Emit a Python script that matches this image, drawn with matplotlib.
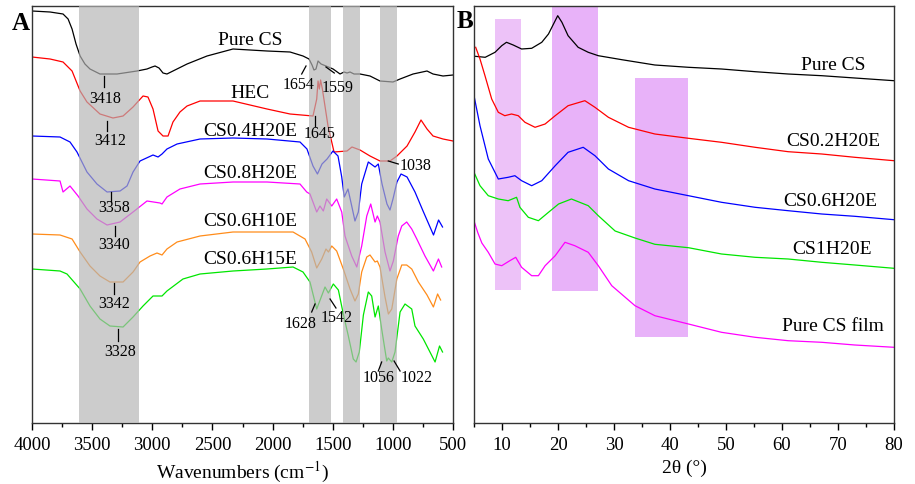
import matplotlib
matplotlib.use("Agg")
import matplotlib.pyplot as plt
import numpy as np

plt.rcParams['font.family'] = ['Liberation Serif', 'DejaVu Serif']
plt.rcParams['mathtext.fontset'] = 'stix'

# ---------------- Panel A: FTIR ----------------
ftir_names = ["Pure CS", "HEC", "CS0.4H20E", "CS0.8H20E", "CS0.6H10E", "CS0.6H15E"]
ftir_colors = ["#000000", "#ff0000", "#0000ff", "#ff00ff", "#ff8c1a", "#00e600"]

pure_cs_wn = [4000, 3850, 3742, 3700, 3667, 3634, 3600, 3560, 3518, 3435, 3293, 3127, 3044, 3002, 2977,
              2944, 2911, 2878, 2828, 2711, 2545, 2329, 2046, 1855, 1747, 1697, 1672, 1656, 1639, 1622,
              1597, 1556, 1497, 1439, 1406, 1381, 1356, 1323, 1273, 1190, 1107, 999, 940, 832, 716, 666,
              583, 500]
pure_cs_i = [412, 411, 409, 404, 394, 379, 367, 359, 354, 349, 349, 352, 354, 356, 357,
             355, 350, 349, 352, 359, 367, 374, 372, 371, 367, 364, 358, 353, 354, 362,
             359, 357, 354, 349, 351, 350, 351, 349, 349, 347, 342, 341, 344, 349, 352, 349,
             347, 348]

hec_wn = [4000, 3850, 3742, 3667, 3600, 3543, 3435, 3327, 3243, 3160, 3077, 3036, 2994, 2952, 2911,
          2869, 2828, 2770, 2711, 2603, 2329, 2046, 1855, 1664, 1633, 1622, 1611, 1601, 1586, 1539,
          1489, 1381, 1340, 1273, 1190, 1107, 1024, 966, 882, 816, 766, 716, 666, 583, 500]
hec_i = [366, 364, 361, 352, 332, 321, 309, 305, 307, 316, 327, 326, 314, 292, 287,
         287, 301, 311, 317, 322, 322, 314, 309, 307, 324, 342, 334, 343, 334, 297,
         271, 272, 276, 273, 267, 262, 262, 267, 277, 291, 303, 294, 287, 284, 282]

cs04_wn = [4000, 3767, 3684, 3626, 3543, 3460, 3376, 3268, 3210, 3160, 3102, 2994, 2952, 2919, 2878,
           2794, 2603, 2329, 2046, 1772, 1714, 1664, 1627, 1589, 1547, 1498, 1456, 1425, 1404, 1373,
           1342, 1315, 1287, 1259, 1204, 1148, 1121, 1090, 1049, 1024, 999, 966, 932, 882, 816, 749,
           662, 620, 587]
cs04_i = [287, 286, 281, 271, 251, 239, 231, 232, 237, 251, 262, 268, 266, 269, 274,
          279, 284, 285, 284, 281, 274, 257, 249, 259, 264, 272, 267, 246, 226, 234,
          217, 202, 211, 239, 261, 256, 259, 239, 219, 213, 224, 241, 249, 246, 231, 212,
          188, 203, 196]

cs08_wn = [4000, 3767, 3742, 3684, 3617, 3543, 3460, 3376, 3268, 3160, 3044, 2936, 2919, 2878, 2770,
           2603, 2329, 2046, 1772, 1716, 1689, 1633, 1606, 1578, 1550, 1508, 1467, 1425, 1398, 1342,
           1300, 1259, 1217, 1184, 1148, 1129, 1107, 1065, 1024, 996, 955, 926, 885, 843, 801, 733,
           663, 621, 594]
cs08_i = [244, 242, 231, 237, 227, 214, 204, 198, 201, 211, 222, 220, 219, 226, 234,
          239, 241, 241, 239, 231, 229, 211, 217, 212, 224, 217, 224, 211, 187, 167,
          156, 177, 207, 219, 201, 207, 201, 171, 152, 162, 187, 197, 201, 194, 184, 167,
          152, 164, 156]

cs0610_wn = [4000, 3767, 3667, 3600, 3518, 3435, 3352, 3243, 3160, 3102, 3019, 2961, 2919, 2878, 2794,
             2603, 2329, 2046, 1830, 1730, 1675, 1633, 1591, 1556, 1535, 1508, 1467, 1412, 1356, 1315,
             1287, 1259, 1217, 1190, 1148, 1129, 1107, 1065, 1037, 1009, 967, 926, 885, 843, 788, 716,
             663, 628, 603]
cs0610_i = [189, 188, 184, 171, 157, 147, 141, 141, 151, 161, 167, 170, 168, 174, 181,
            187, 191, 191, 191, 184, 171, 155, 164, 174, 171, 177, 172, 154, 134, 122,
            129, 151, 166, 168, 161, 162, 156, 126, 109, 114, 144, 158, 158, 154, 141, 128,
            116, 129, 123]

cs0615_wn = [4000, 3767, 3709, 3600, 3518, 3435, 3352, 3243, 3160, 3077, 2994, 2919, 2878, 2745, 2603,
             2329, 2046, 1830, 1747, 1689, 1633, 1564, 1536, 1495, 1453, 1412, 1370, 1329, 1306, 1279,
             1245, 1204, 1176, 1148, 1121, 1093, 1051, 1038, 1009, 982, 940, 899, 843, 816, 747, 649,
             612, 587]
cs0615_i = [154, 152, 149, 134, 117, 104, 97, 96, 106, 117, 127, 127, 132, 144, 149,
            152, 154, 156, 151, 141, 114, 136, 130, 139, 133, 109, 87, 64, 61, 71,
            108, 131, 127, 106, 117, 94, 62, 65, 61, 71, 111, 119, 114, 97, 84, 61,
            77, 71]

ftir_wn = [pure_cs_wn, hec_wn, cs04_wn, cs08_wn, cs0610_wn, cs0615_wn]
ftir_i = [pure_cs_i, hec_i, cs04_i, cs08_i, cs0610_i, cs0615_i]

ftir_label_wn = [2188, 2188, 2188, 2188, 2188, 2188]
ftir_label_i = [384, 331, 293, 250, 203, 165]

ftir_bands = [(3610, 3110), (1695, 1515), (1415, 1270), (1105, 965)]

peak_texts = ["3418", "3412", "1654", "1559", "1645", "1038", "3358", "3340", "3342", "3328",
              "1628", "1542", "1056", "1022"]
peak_text_wn = [3393, 3352, 1780, 1456, 1606, 809, 3321, 3321, 3321, 3271, 1765, 1464, 1115, 805]
peak_text_i = [325, 283, 339, 336, 290, 258, 216, 179, 120, 72, 100, 106, 46, 46]
peak_line_wn1 = [3399, 3374, 1758, 1556, 1647, 1038, 3346, 3310, 3318, 3283, 1647, 1522, 1093, 990]
peak_line_i1 = [347, 302, 349, 356, 307, 262, 231, 197, 140, 94, 119, 124, 61, 62]
peak_line_wn2 = [3399, 3374, 1722, 1487, 1647, 955, 3346, 3310, 3318, 3283, 1675, 1473, 1121, 940]
peak_line_i2 = [336, 292, 357, 350, 297, 259, 222, 187, 129, 82, 111, 115, 52, 52]

# ---------------- Panel B: XRD ----------------
xrd_names = ["Pure CS", "CS0.2H20E", "CS0.6H20E", "CS1H20E", "Pure CS film"]
xrd_colors = ["#000000", "#ff0000", "#0000ff", "#00e600", "#ff00ff"]

xrd_pure_cs_t = [5.2, 7.0, 8.75, 9.95, 10.8, 12.0, 13.5, 15.3, 17.1, 18.3, 19.2, 19.95, 20.7, 21.8, 23.6,
                 25.4, 27.2, 31.4, 37.3, 43.3, 49.2, 55.2, 61.1, 67.1, 73.0, 80.0]
xrd_pure_cs_i = [366.7, 365.7, 370.7, 377.3, 380.7, 378, 374, 374.7, 380.7, 389, 399, 407.3, 400.7, 387.3, 375.7,
                 370.7, 367.3, 363.3, 358, 355.7, 354, 351.3, 349, 347.3, 345, 342.3]

xrd_cs02_t = [5.3, 6.07, 6.96, 8.16, 9.34, 10.5, 11.7, 12.9, 14.1, 15.9, 17.7, 19.5, 21.8, 24.8, 26.6,
              29.0, 32.6, 37.3, 43.3, 49.2, 55.2, 61.1, 67.1, 73.0, 80.0]
xrd_cs02_i = [375.7, 364, 347.3, 324, 310.7, 307.3, 309, 307.3, 300.7, 295.7, 299, 307.3, 317.3, 322.3, 315.7,
              305.7, 295.7, 289, 284.7, 280.7, 275.7, 271.3, 269, 265.7, 262.3]

xrd_cs06_t = [5.0, 6.07, 7.55, 9.34, 11.1, 12.3, 13.5, 15.3, 17.1, 19.5, 21.8, 24.5, 26.6, 29.0, 32.6,
              37.3, 43.3, 49.2, 55.2, 61.1, 67.1, 73.0, 80.0]
xrd_cs06_i = [327.3, 297.3, 264, 244, 245.7, 247.3, 242.3, 237.3, 242.3, 257.3, 270.7, 275.7, 267.3, 254, 242.3,
              234, 227.3, 220.7, 215.7, 212.3, 209, 206.7, 203.3]

xrd_cs1_t = [5.0, 6.07, 7.55, 9.34, 11.1, 12.6, 13.2, 14.7, 16.5, 18.3, 20.1, 22.4, 25.4, 27.2, 30.2,
             33.75, 37.3, 43.3, 49.2, 55.2, 61.1, 67.1, 73.0, 80.0]
xrd_cs1_i = [250.7, 237.3, 227.3, 224, 222.3, 225.7, 215.7, 205.7, 202.3, 210.7, 219, 224, 217.3, 207.3, 192,
             185, 178.7, 175.3, 169, 165.7, 164, 160.7, 158, 154.7]

xrd_film_t = [5.0, 5.7, 6.4, 7.55, 8.75, 9.95, 11.4, 12.45, 13.5, 15.3, 16.5, 17.7, 19.5, 21.25, 23.0,
              25.4, 27.2, 29.6, 33.75, 37.3, 43.3, 49.2, 55.2, 61.1, 67.1, 73.0, 80.0]
xrd_film_i = [202, 190, 180, 170.7, 159, 157.3, 162.3, 165.7, 155.7, 147.3, 147.3, 157.3, 167.3, 180.7, 177.3,
              170.7, 157.3, 137.3, 117.3, 107.3, 99, 90.7, 85.7, 82.3, 80.7, 78, 75.7]

xrd_t = [xrd_pure_cs_t, xrd_cs02_t, xrd_cs06_t, xrd_cs1_t, xrd_film_t]
xrd_i = [xrd_pure_cs_i, xrd_cs02_i, xrd_cs06_i, xrd_cs1_i, xrd_film_i]

xrd_label_t = [69.1, 69.1, 68.6, 68.9, 69.1]
xrd_label_i = [359, 282.3, 222.3, 174, 97.3]

# bands: (x0, x1, ybottom, ytop)
xrd_bands = [(8.75, 13.4, 133, 404), (18.9, 27.1, 132, 417), (33.75, 43.3, 86, 345)]
xrd_band_colors = ["#edc2f8", "#e8b2f9", "#e8b2f9"]

# ---------------- Figure ----------------
fig = plt.figure(figsize=(9.15, 4.85), dpi=100)
axA = fig.add_axes([32/915, 61/485, 421/915, 417/485])
axB = fig.add_axes([474/915, 61/485, 420/915, 417/485])

for ax in (axA, axB):
    for s in ax.spines.values():
        s.set_linewidth(1.0)
        s.set_color("#333333")
    ax.tick_params(axis='x', which='major', direction='out', length=5, width=1, labelsize=13.5, pad=4.5)
    ax.tick_params(axis='x', which='minor', direction='out', length=3, width=1)
    ax.set_yticks([])
    ax.set_ylim(0, 417)

# Panel A
for wn, inten, c in zip(ftir_wn, ftir_i, ftir_colors):
    axA.plot(wn, inten, color=c, lw=0.9, zorder=2)
for (a, b) in ftir_bands:
    axA.axvspan(b, a, facecolor="#b4b4b4", alpha=0.68, lw=0, zorder=3)
for name, x, y in zip(ftir_names, ftir_label_wn, ftir_label_i):
    axA.text(x, y, name, ha='center', va='center', fontsize=14, zorder=5)
for t, x, y, x1, y1, x2, y2 in zip(peak_texts, peak_text_wn, peak_text_i,
                                   peak_line_wn1, peak_line_i1, peak_line_wn2, peak_line_i2):
    axA.text(x, y, t, ha='center', va='center', fontsize=11.5, zorder=5)
    axA.plot([x1, x2], [y1, y2], color='black', lw=0.9, zorder=5)
axA.set_xlim(4000, 500)
axA.set_xticks(np.arange(4000, 499, -500))
axA.set_xticks(np.arange(3750, 500, -500), minor=True)
axA.set_xlabel("Wavenumbers (cm$^{-1}$)", fontsize=14, labelpad=4)

# Panel B
for (x0, x1, y0, y1), bc in zip(xrd_bands, xrd_band_colors):
    axB.fill_between([x0, x1], [y0, y0], [y1, y1], facecolor=bc, lw=0, zorder=1)
for t, inten, c in zip(xrd_t, xrd_i, xrd_colors):
    axB.plot(t, inten, color=c, lw=0.9, zorder=2)
for name, x, y in zip(xrd_names, xrd_label_t, xrd_label_i):
    axB.text(x, y, name, ha='center', va='center', fontsize=14, zorder=5)
axB.set_xlim(5, 80)
axB.set_xticks(np.arange(10, 81, 10))
axB.set_xticks(np.arange(5, 80, 10), minor=True)
axB.set_xlabel("2θ (°)", fontsize=14, labelpad=4)

fig.text(21/915, 1 - 23/485, "A", fontsize=18, fontweight='bold', ha='center', va='center')
fig.text(465/915, 1 - 22/485, "B", fontsize=18, fontweight='bold', ha='center', va='center')

fig.savefig("out.png", dpi=100)
